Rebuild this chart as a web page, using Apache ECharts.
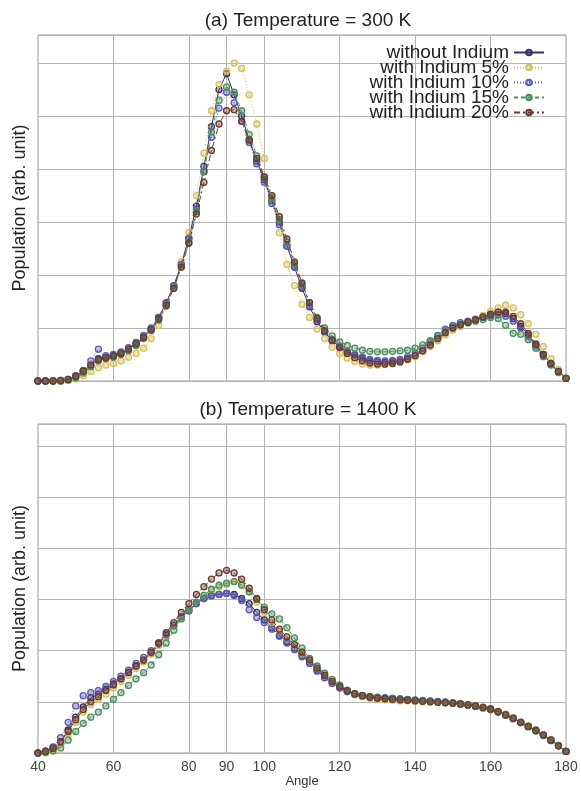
<!DOCTYPE html>
<html>
<head>
<meta charset="utf-8">
<script src="https://cdn.jsdelivr.net/npm/echarts/dist/echarts.min.js"></script>
<style>html,body{margin:0;padding:0;background:#fff}#c{width:581px;height:791px}</style>
</head>
<body>
<div id="c"></div>
<script>
const angles = [40,42,44,46,48,50,52,54,56,58,60,62,64,66,68,70,72,74,76,78,80,82,84,86,88,90,92,94,96,98,100,102,104,106,108,110,112,114,116,118,120,122,124,126,128,130,132,134,136,138,140,142,144,146,148,150,152,154,156,158,160,162,164,166,168,170,172,174,176,178,180];
const xTickLabels = [40,60,80,90,100,120,140,160,180];
const seriesNames = ['without Indium','with Indium 5%','with Indium 10%','with Indium 15%','with Indium 20%'];
const titleA = '(a) Temperature = 300 K';
const titleB = '(b) Temperature = 1400 K';

// 300 K
const a_without = [0,0,0,0,0.02,0.08,0.18,0.3,0.42,0.45, 0.48,0.53,0.6,0.7,0.83,0.98,1.2,1.48,1.8,2.2, 2.7,3.3,4.05,4.8,5.5,5.8,5.4,5.0,4.55,4.15, 3.8,3.4,3.0,2.55,2.15,1.75,1.4,1.12,0.92,0.76, 0.64,0.55,0.48,0.42,0.38,0.36,0.35,0.36,0.38,0.42, 0.48,0.57,0.68,0.8,0.92,1.0,1.06,1.1,1.15,1.2, 1.25,1.3,1.27,1.18,1.03,0.87,0.68,0.5,0.33,0.18, 0.05];
const a_in5 = [0,0,0,0,0.01,0.04,0.1,0.18,0.25,0.3, 0.33,0.38,0.45,0.52,0.62,0.8,1.05,1.4,1.8,2.25, 2.8,3.5,4.3,5.1,5.6,5.85,6.0,5.9,5.4,4.85, 4.2,3.5,2.8,2.2,1.8,1.45,1.2,0.98,0.8,0.64, 0.52,0.43,0.37,0.32,0.3,0.3,0.31,0.33,0.36,0.4, 0.46,0.55,0.65,0.76,0.87,0.96,1.03,1.1,1.17,1.24, 1.32,1.38,1.43,1.38,1.25,1.08,0.88,0.65,0.42,0.22, 0.06];
const a_in10 = [0,0,0,0.01,0.03,0.1,0.2,0.38,0.6,0.48, 0.5,0.55,0.63,0.73,0.86,1.0,1.2,1.47,1.8,2.2, 2.68,3.25,3.95,4.6,5.15,5.45,5.25,4.9,4.5,4.1, 3.75,3.35,2.95,2.55,2.15,1.78,1.42,1.15,0.94,0.78, 0.66,0.57,0.5,0.45,0.41,0.39,0.38,0.39,0.41,0.46, 0.53,0.62,0.74,0.86,0.98,1.05,1.1,1.13,1.16,1.2, 1.23,1.25,1.22,1.13,1.0,0.84,0.66,0.48,0.32,0.17, 0.05];
const a_in15 = [0,0,0,0,0.02,0.06,0.15,0.27,0.38,0.42, 0.45,0.5,0.57,0.67,0.8,0.95,1.15,1.42,1.75,2.15, 2.62,3.2,3.95,4.7,5.3,5.55,5.45,5.1,4.65,4.25, 3.85,3.45,3.05,2.62,2.22,1.82,1.48,1.2,1.0,0.85, 0.74,0.67,0.62,0.58,0.56,0.55,0.55,0.56,0.57,0.58, 0.62,0.68,0.76,0.85,0.95,1.02,1.07,1.1,1.13,1.16, 1.2,1.18,1.05,0.9,0.88,0.78,0.62,0.46,0.3,0.16, 0.05];
const a_in20 = [0,0,0,0.01,0.03,0.09,0.19,0.3,0.4,0.44, 0.47,0.52,0.6,0.7,0.82,0.97,1.17,1.43,1.75,2.15, 2.6,3.15,3.75,4.35,4.85,5.1,5.12,4.9,4.55,4.2, 3.85,3.5,3.1,2.68,2.25,1.85,1.48,1.18,0.95,0.77, 0.63,0.52,0.44,0.38,0.34,0.32,0.32,0.33,0.36,0.41, 0.48,0.57,0.68,0.8,0.91,1.0,1.06,1.11,1.16,1.21, 1.26,1.3,1.3,1.22,1.08,0.9,0.7,0.5,0.33,0.18, 0.05];

// 1400 K
const b_without = [0,0.03,0.1,0.22,0.45,0.7,0.9,1.08,1.15,1.25, 1.35,1.45,1.58,1.7,1.8,1.95,2.12,2.3,2.48,2.65, 2.78,2.92,3.02,3.08,3.1,3.12,3.1,3.02,2.92,2.75, 2.6,2.45,2.3,2.18,2.05,1.9,1.78,1.62,1.48,1.38, 1.28,1.2,1.15,1.12,1.1,1.08,1.07,1.06,1.05,1.04, 1.03,1.02,1.01,1.0,0.99,0.98,0.96,0.94,0.92,0.89, 0.86,0.81,0.75,0.68,0.6,0.52,0.45,0.36,0.26,0.15, 0.03];
const b_in5 = [0,0.02,0.07,0.18,0.38,0.6,0.8,0.95,1.05,1.15, 1.27,1.4,1.52,1.65,1.78,1.93,2.1,2.28,2.47,2.65, 2.8,2.95,3.08,3.18,3.25,3.3,3.35,3.3,3.15,2.95, 2.75,2.55,2.38,2.22,2.08,1.93,1.8,1.65,1.5,1.38, 1.28,1.2,1.14,1.1,1.07,1.05,1.04,1.03,1.02,1.02, 1.01,1.0,1.0,0.99,0.98,0.97,0.96,0.94,0.92,0.9, 0.87,0.82,0.76,0.69,0.61,0.53,0.45,0.36,0.26,0.15, 0.03];
const b_in10 = [0,0.04,0.12,0.3,0.6,0.92,1.12,1.18,1.22,1.3, 1.4,1.5,1.62,1.75,1.87,2.0,2.15,2.32,2.5,2.67, 2.8,2.92,3.02,3.07,3.1,3.12,3.08,2.98,2.8,2.65, 2.55,2.42,2.28,2.15,2.02,1.88,1.75,1.6,1.47,1.36, 1.27,1.2,1.15,1.12,1.1,1.09,1.08,1.07,1.06,1.05, 1.04,1.03,1.02,1.01,1.0,0.98,0.96,0.94,0.91,0.88, 0.85,0.8,0.74,0.67,0.6,0.52,0.44,0.35,0.25,0.14, 0.03];
const b_in15 = [0,0.01,0.04,0.1,0.25,0.42,0.58,0.7,0.8,0.92, 1.05,1.18,1.32,1.45,1.57,1.72,1.92,2.15,2.4,2.62, 2.78,2.95,3.08,3.2,3.28,3.32,3.35,3.28,3.15,3.0, 2.85,2.72,2.62,2.45,2.25,2.05,1.85,1.7,1.56,1.44, 1.33,1.23,1.16,1.12,1.1,1.08,1.07,1.06,1.05,1.04, 1.03,1.02,1.01,1.0,0.99,0.98,0.96,0.94,0.91,0.88, 0.85,0.8,0.74,0.67,0.59,0.51,0.43,0.34,0.24,0.14, 0.03];
const b_in20 = [0,0.03,0.09,0.22,0.42,0.65,0.85,1.0,1.1,1.22, 1.33,1.45,1.57,1.7,1.82,1.97,2.15,2.35,2.55,2.75, 2.92,3.1,3.25,3.4,3.52,3.57,3.52,3.4,3.22,3.02, 2.8,2.6,2.42,2.27,2.12,1.97,1.82,1.66,1.52,1.4, 1.3,1.22,1.16,1.12,1.09,1.07,1.06,1.05,1.04,1.03, 1.02,1.01,1.0,0.99,0.98,0.97,0.96,0.94,0.92,0.89, 0.86,0.81,0.75,0.68,0.6,0.52,0.44,0.35,0.25,0.14, 0.03];

const dataA = [a_without, a_in5, a_in10, a_in15, a_in20];
const dataB = [b_without, b_in5, b_in10, b_in15, b_in20];

const colors = ['#3a2f62', '#d6bf5a', '#5a5ab8', '#4a8f5c', '#6e3a2e'];
const fills  = ['rgba(58,47,98,0.35)', 'rgba(214,191,90,0.35)', 'rgba(90,90,184,0.35)', 'rgba(74,143,92,0.35)', 'rgba(110,58,46,0.35)'];
const lineTypes = ['solid', [1,2], [1,2], [4,3], [6,3,2,3]];
const FONT = 'Liberation Sans, Arial, sans-serif';
const gridColor = '#b4b4b4';

function pairs(vals) { return angles.map((a, i) => [a, vals[i]]); }

function makeSeries(data, gi) {
  return data.map((vals, k) => {
    const s = {
      name: seriesNames[k],
      type: 'line',
      xAxisIndex: gi, yAxisIndex: gi,
      data: pairs(vals),
      symbol: 'circle',
      symbolSize: 6,
      showSymbol: true,
      lineStyle: { color: colors[k], width: 1, type: lineTypes[k] },
      itemStyle: { color: fills[k], borderColor: colors[k], borderWidth: 1.3 },
      emphasis: { disabled: true },
      z: 3 + k
    };
    if (k === 0) {
      s.markLine = {
        silent: true, symbol: 'none', z: 1,
        label: { show: false },
        lineStyle: { color: gridColor, type: 'solid', width: 1 },
        data: xTickLabels.filter(v => v > 40 && v < 180).map(v => ({ xAxis: v }))
      };
    }
    return s;
  });
}

const xBase = (gi, showLabels) => ({
  type: 'value', gridIndex: gi, min: 40, max: 180, interval: 10,
  axisLine: { show: false },
  axisTick: { show: false },
  splitLine: { show: false },
  axisLabel: {
    show: showLabels, color: '#444', fontSize: 14, fontFamily: FONT, margin: 7,
    formatter: v => xTickLabels.includes(v) ? String(v) : ''
  },
  name: showLabels ? 'Angle' : '',
  nameLocation: 'middle', nameGap: 22,
  nameTextStyle: { color: '#333', fontSize: 13, fontFamily: FONT }
});

const yBase = (gi, max) => ({
  type: 'value', gridIndex: gi, min: 0, max: max, interval: 1,
  axisLine: { show: false }, axisTick: { show: false },
  axisLabel: { show: false },
  splitLine: { show: true, lineStyle: { color: gridColor, width: 1 } },
  name: 'Population (arb. unit)', nameLocation: 'middle', nameGap: 9,
  nameTextStyle: { color: '#222', fontSize: 18, fontFamily: FONT }
});

const chart = echarts.init(document.getElementById('c'), null, { renderer: 'canvas' });
chart.setOption({
  animation: false,
  backgroundColor: '#fff',
  title: [
    { text: titleA, left: 303, top: 6, textAlign: 'center', textStyle: { fontSize: 19, fontWeight: 'normal', color: '#222', fontFamily: FONT } },
    { text: titleB, left: 303, top: 395, textAlign: 'center', textStyle: { fontSize: 19, fontWeight: 'normal', color: '#222', fontFamily: FONT } }
  ],
  legend: {
    data: seriesNames,
    orient: 'vertical', right: 31, top: 38, align: 'right',
    itemWidth: 30, itemHeight: 7, itemGap: -4,
    textStyle: { fontSize: 19, fontFamily: FONT, color: '#222', lineHeight: 15, padding: [0, 0, 0, 0] },
    selectedMode: false
  },
  grid: [
    { left: 38, right: 15, top: 35, height: 346, show: true, borderColor: '#999', borderWidth: 1, backgroundColor: '#fff' },
    { left: 38, right: 15, top: 424, height: 329, show: true, borderColor: '#999', borderWidth: 1, backgroundColor: '#fff' }
  ],
  xAxis: [xBase(0, false), xBase(1, true)],
  yAxis: [yBase(0, 6.53), yBase(1, 6.43)],
  series: [...makeSeries(dataA, 0), ...makeSeries(dataB, 1)]
});
</script>
</body>
</html>
